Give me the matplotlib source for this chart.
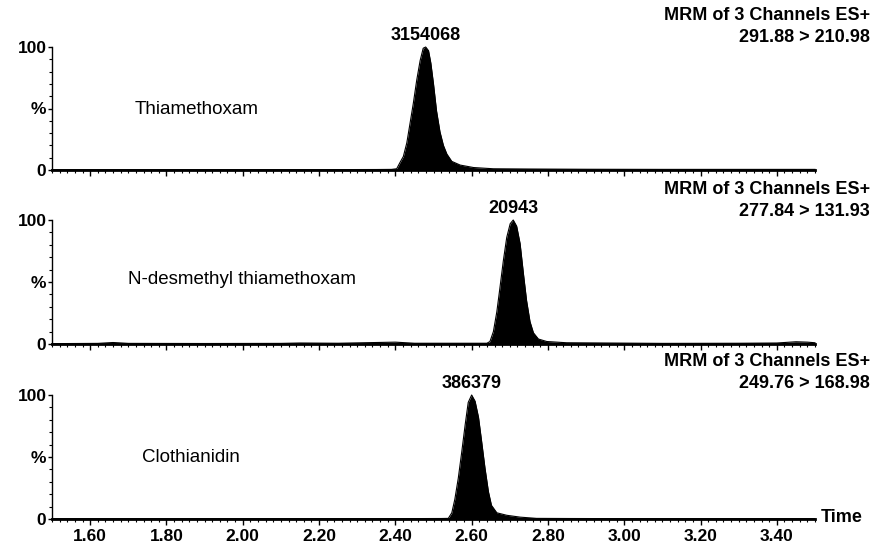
import matplotlib
matplotlib.use("Agg")
import matplotlib.pyplot as plt
from matplotlib.ticker import MultipleLocator, FixedLocator
import numpy as np

plt.rcParams['font.family'] = ['Liberation Sans', 'DejaVu Sans']

# ---- data ----
compounds = ["Thiamethoxam", "N-desmethyl thiamethoxam", "Clothianidin"]
peak_labels = ["3154068", "20943", "386379"]
transitions = ["291.88 > 210.98", "277.84 > 131.93", "249.76 > 168.98"]
header = "MRM of 3 Channels ES+"
xtick_vals = [1.60, 1.80, 2.00, 2.20, 2.40, 2.60, 2.80, 3.00, 3.20, 3.40]
xtick_labels = ["1.60", "1.80", "2.00", "2.20", "2.40", "2.60", "2.80", "3.00", "3.20", "3.40"]

t1 = [1.50, 1.60, 1.80, 2.00, 2.20, 2.35, 2.390, 2.4035, 2.412, 2.421, 2.430, 2.438, 2.447,
      2.456, 2.465, 2.473, 2.4795, 2.487, 2.493, 2.500, 2.508, 2.517, 2.526, 2.535, 2.548,
      2.570, 2.605, 2.657, 2.75, 2.90, 3.10, 3.30, 3.50]
i1 = [0.3, 0.3, 0.3, 0.3, 0.3, 0.4, 0.5, 1, 6, 11, 22, 37, 54,
      73, 89, 99, 100, 97, 87, 70, 48, 31, 20, 13, 7,
      4, 2, 1, 0.8, 0.6, 0.5, 0.5, 0.5]

t2 = [1.50, 1.62, 1.66, 1.70, 1.90, 2.10, 2.15, 2.25, 2.35, 2.40, 2.45, 2.55, 2.640, 2.648,
      2.657, 2.666, 2.674, 2.683, 2.692, 2.701, 2.709, 2.718, 2.727, 2.736, 2.744, 2.753,
      2.762, 2.775, 2.797, 2.849, 2.95, 3.10, 3.30, 3.40, 3.45, 3.48, 3.50]
i2 = [0.3, 0.5, 1.2, 0.5, 0.4, 0.5, 0.8, 0.6, 1.2, 1.5, 0.6, 0.6, 0.6, 2,
      10, 26, 45, 67, 86, 97, 100, 95, 81, 56, 35, 18,
      9, 4, 2, 1, 0.8, 0.5, 0.6, 0.8, 1.8, 1.5, 1.0]

t3 = [1.50, 1.80, 2.10, 2.40, 2.52, 2.5388, 2.548, 2.556, 2.565, 2.574, 2.583, 2.591, 2.600,
      2.609, 2.618, 2.626, 2.635, 2.644, 2.652, 2.666, 2.692, 2.727, 2.770, 2.85, 3.00, 3.20, 3.50]
i3 = [0.3, 0.3, 0.3, 0.3, 0.4, 0.5, 5, 16, 33, 54, 76, 94, 100,
      95, 82, 63, 41, 22, 11, 5, 3, 1.5, 0.5, 0.4, 0.3, 0.3, 0.3]

traces = [(t1, i1), (t2, i2), (t3, i3)]

W, H = 888, 544
fig = plt.figure(figsize=(W / 100, H / 100), dpi=100)

# axes boxes in pixels: (left, top(100%), right, bottom(0%))
boxes = [(52, 47, 815, 170), (52, 220, 815, 344), (52, 395, 815, 519)]
name_pos = [(135, 110), (128, 280), (142, 457)]
hdr_y = [(15, 37), (190, 211), (362, 383)]

for k, ((t, inten), box) in enumerate(zip(traces, boxes)):
    l, tp, r, b = box
    ax = fig.add_axes([l / W, 1 - b / H, (r - l) / W, (b - tp) / H])
    ax.fill_between(t, 0, inten, color='black', lw=0)
    ax.plot(t, inten, color='black', lw=0.8, clip_on=False)
    ax.set_xlim(1.50, 3.50)
    ax.set_ylim(0, 100)
    for s in ['top', 'right']:
        ax.spines[s].set_visible(False)
    ax.spines['left'].set_linewidth(1.0)
    ax.spines['bottom'].set_linewidth(2.0)
    ax.set_yticks([0, 50, 100])
    ax.set_yticklabels(['0', '%', '100'], fontsize=12.5, fontweight='bold')
    ax.yaxis.set_minor_locator(MultipleLocator(10))
    ax.tick_params(axis='y', which='major', direction='out', length=3, width=1, pad=1)
    ax.tick_params(axis='y', which='minor', direction='out', length=2, width=0.8)
    ax.xaxis.set_major_locator(FixedLocator(xtick_vals))
    ax.xaxis.set_minor_locator(MultipleLocator(0.02))
    ax.tick_params(axis='x', which='major', direction='out', length=4, width=1, pad=3)
    ax.tick_params(axis='x', which='minor', direction='out', length=2.5, width=0.8)
    if k == 2:
        ax.set_xticklabels(xtick_labels, fontsize=12.5, fontweight='bold')
    else:
        ax.set_xticklabels([])
    # peak label
    pk = int(np.argmax(inten))
    ax.annotate(peak_labels[k], xy=(t[pk], 100), xytext=(0, 2), textcoords='offset points',
                ha='center', va='bottom', fontsize=13, fontweight='bold', annotation_clip=False)
    # compound name
    nx, ny = name_pos[k]
    fig.text(nx / W, 1 - ny / H, compounds[k], fontsize=13.5, ha='left', va='center')
    # header
    fig.text(870 / W, 1 - hdr_y[k][0] / H, header, fontsize=13, fontweight='bold',
             ha='right', va='center')
    fig.text(870 / W, 1 - hdr_y[k][1] / H, transitions[k], fontsize=13, fontweight='bold',
             ha='right', va='center')

fig.text(821 / W, 1 - 518 / H, "Time", fontsize=13, fontweight='bold', ha='left', va='center')

fig.savefig("out.png", dpi=100)
